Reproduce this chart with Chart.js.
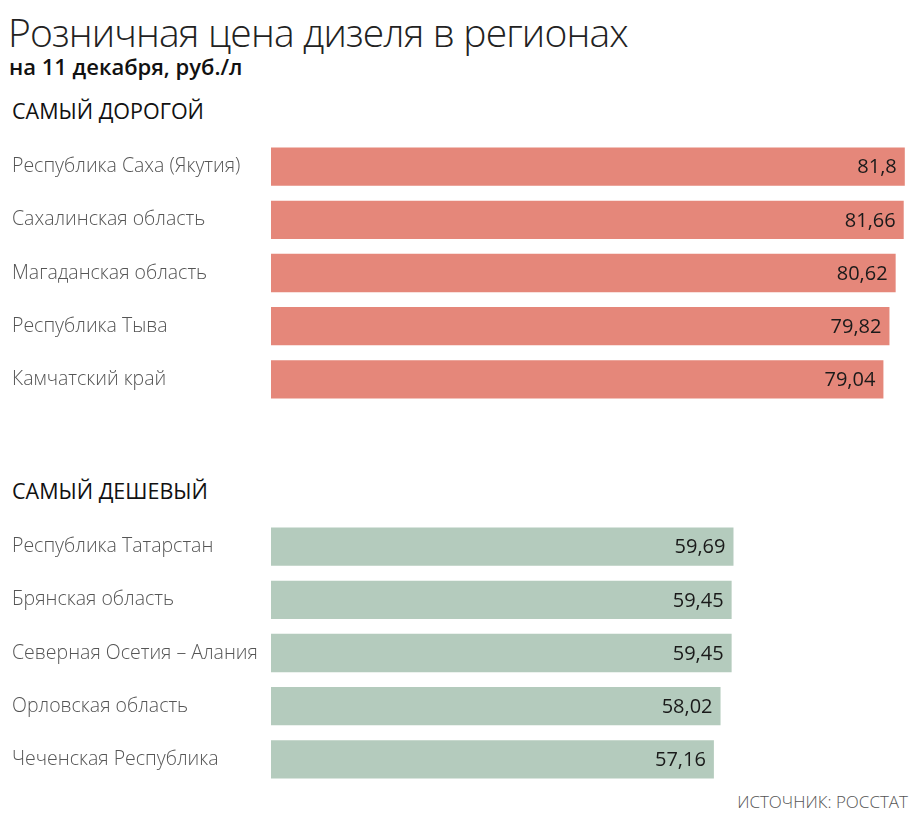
<!DOCTYPE html>
<html lang="ru">
<head>
<meta charset="utf-8">
<script src="https://cdn.jsdelivr.net/npm/chart.js@4/dist/chart.umd.min.js"></script>
<style>
  html, body { margin: 0; padding: 0; background: #fff; }
  body { width: 918px; height: 820px; position: relative; overflow: hidden; font-family: "Open Sans", sans-serif; }
  .title { position: absolute; left: 8px; top: 5px; font-size: 39px; font-weight: 300; color: #222; letter-spacing: -0.85px; white-space: nowrap; }
  .sub { position: absolute; left: 9px; top: 51px; font-size: 22px; font-weight: 600; color: #111; white-space: nowrap; }
  .head { position: absolute; left: 12px; font-size: 21.5px; font-weight: 400; color: #111; white-space: nowrap; }
  .src { position: absolute; right: 10px; top: 790px; font-size: 17px; font-weight: 300; color: #555; white-space: nowrap; }
  .box { position: absolute; left: 0; width: 918px; height: 266px; }
</style>
</head>
<body>
<div class="title">Розничная цена дизеля в регионах</div>
<div class="sub">на 11 декабря, руб./л</div>
<div class="head" style="top:96px">САМЫЙ ДОРОГОЙ</div>
<div class="head" style="top:476px">САМЫЙ ДЕШЕВЫЙ</div>
<div class="box" style="top:140px"><canvas id="top"></canvas></div>
<div class="box" style="top:520px"><canvas id="bottom"></canvas></div>
<div class="src">ИСТОЧНИК: РОССТАТ</div>
<script>
const expensiveRegions = ["Республика Саха (Якутия)", "Сахалинская область", "Магаданская область", "Республика Тыва", "Камчатский край"]
const expensivePrices = [81.8, 81.66, 80.62, 79.82, 79.04]
const cheapRegions = ["Республика Татарстан", "Брянская область", "Северная Осетия – Алания", "Орловская область", "Чеченская Республика"]
const cheapPrices = [59.69, 59.45, 59.45, 58.02, 57.16]

// draws the value at the inner right end of every bar
const valueLabels = {
  id: "valueLabels",
  afterDatasetsDraw(chart) {
    const ctx = chart.ctx
    ctx.save()
    ctx.font = "400 20px 'Open Sans', sans-serif"
    ctx.fillStyle = "#1a1a1a"
    ctx.textAlign = "right"
    ctx.textBaseline = "middle"
    chart.getDatasetMeta(0).data.forEach((bar, i) => {
      const v = chart.data.datasets[0].data[i]
      ctx.fillText(String(v).replace(".", ","), bar.x - 8, bar.y + 1)
    })
    ctx.restore()
  },
}

function makeChart(id, labels, values, color) {
  return new Chart(document.getElementById(id), {
    type: "bar",
    data: { labels, datasets: [{ data: values, backgroundColor: color, barPercentage: 0.72, categoryPercentage: 1 }] },
    options: {
      indexAxis: "y",
      responsive: true,
      maintainAspectRatio: false,
      animation: false,
      layout: { padding: { left: 12, right: 7, top: 0, bottom: 0 } },
      plugins: { legend: { display: false }, tooltip: { enabled: false } },
      scales: {
        x: { display: false, min: 0, max: 82.6 },
        y: {
          grid: { display: false },
          border: { display: false },
          ticks: { crossAlign: "far", color: "#555", font: { family: "'Open Sans', sans-serif", size: 19.5, weight: 300 } },
          // fixed label column, no extra room above/below the rows
          afterFit: (axis) => { axis.width = 259; axis.paddingTop = 0; axis.paddingBottom = 0 },
        },
      },
    },
    plugins: [valueLabels],
  })
}

makeChart("top", expensiveRegions, expensivePrices, "#e5877a")
makeChart("bottom", cheapRegions, cheapPrices, "#b4cbbd")
</script>
</body>
</html>
